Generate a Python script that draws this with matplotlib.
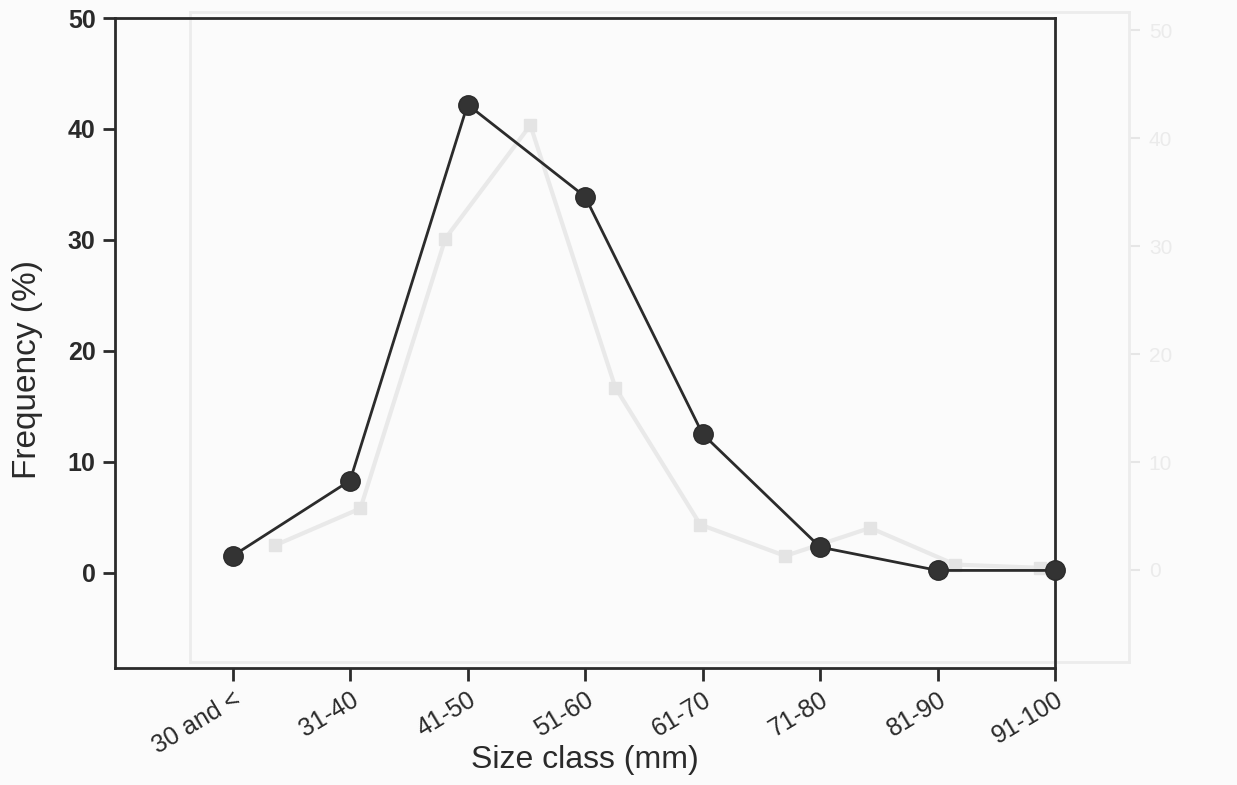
import matplotlib
matplotlib.use("Agg")
import matplotlib.pyplot as plt

# Size-class frequency distribution
size_classes = ["30 and <", "31-40", "41-50", "51-60", "61-70",
                "71-80", "81-90", "91-100"]
frequency = [1.5, 8.3, 42.2, 33.9, 12.5, 2.3, 0.2, 0.2]

y_ticks = [0, 10, 20, 30, 40, 50]

# Faint show-through series from the reverse side of the page
through_values = [2.3, 5.7, 30.7, 41.2, 16.9, 4.2, 1.3, 3.9, 0.5, 0.2]

plt.rcParams["font.family"] = ["Liberation Sans", "DejaVu Sans"]

fig = plt.figure(figsize=(12.37, 7.85), dpi=100)
fig.patch.set_facecolor("#fbfbfb")

# faint show-through frame and line
gx = fig.add_axes([0.154, 0.157, 0.759, 0.828])
gx.set_facecolor("none")
gx.plot(range(len(through_values)), through_values, color="#e9e9e9",
        lw=3, marker="s", ms=9, mfc="#e4e4e4", mec="#e4e4e4")
gx.set_xlim(-1, 10.05)
gx.set_ylim(-8.5, 51.7)
for s in gx.spines.values():
    s.set_color("#ececec")
    s.set_linewidth(2)
gx.set_xticks([])
gx.yaxis.tick_right()
gx.set_yticks(y_ticks)
gx.tick_params(axis="y", colors="#e6e6e6", length=8, width=1.5,
               labelsize=15, pad=6)
gx.set_yticklabels([str(v) for v in y_ticks], color="#ebebeb")

ax = fig.add_axes([0.093, 0.149, 0.760, 0.828])
ax.set_facecolor("none")
x = range(len(size_classes))
ax.plot(x, frequency, color="#2b2b2b", lw=2.0, marker="o", ms=14,
        mfc="#333333", mec="#2b2b2b", zorder=5, clip_on=False)

ax.set_xlim(-1, 7)
ax.set_ylim(-8.6, 50)
ax.set_yticks(y_ticks)
ax.set_xticks(list(x))
ax.set_xticklabels(size_classes, rotation=31, ha="right",
                   rotation_mode="anchor", fontsize=18, color="#2a2a2a")
ax.set_yticklabels([str(v) for v in y_ticks], fontsize=18,
                   fontweight="bold", color="#2a2a2a")
ax.tick_params(axis="both", direction="out", length=9, width=2,
               color="#2b2b2b")
ax.tick_params(axis="y", pad=5)
ax.tick_params(axis="x", pad=5)
for s in ax.spines.values():
    s.set_linewidth(2)
    s.set_color("#2b2b2b")

ax.set_ylabel("Frequency (%)", fontsize=24, color="#2a2a2a")
ax.yaxis.set_label_coords(-0.077, 0.46)
ax.set_xlabel("Size class (mm)", fontsize=23, color="#2a2a2a")
ax.xaxis.set_label_coords(0.5, -0.118)

fig.savefig("out.png", dpi=100, facecolor=fig.get_facecolor())
